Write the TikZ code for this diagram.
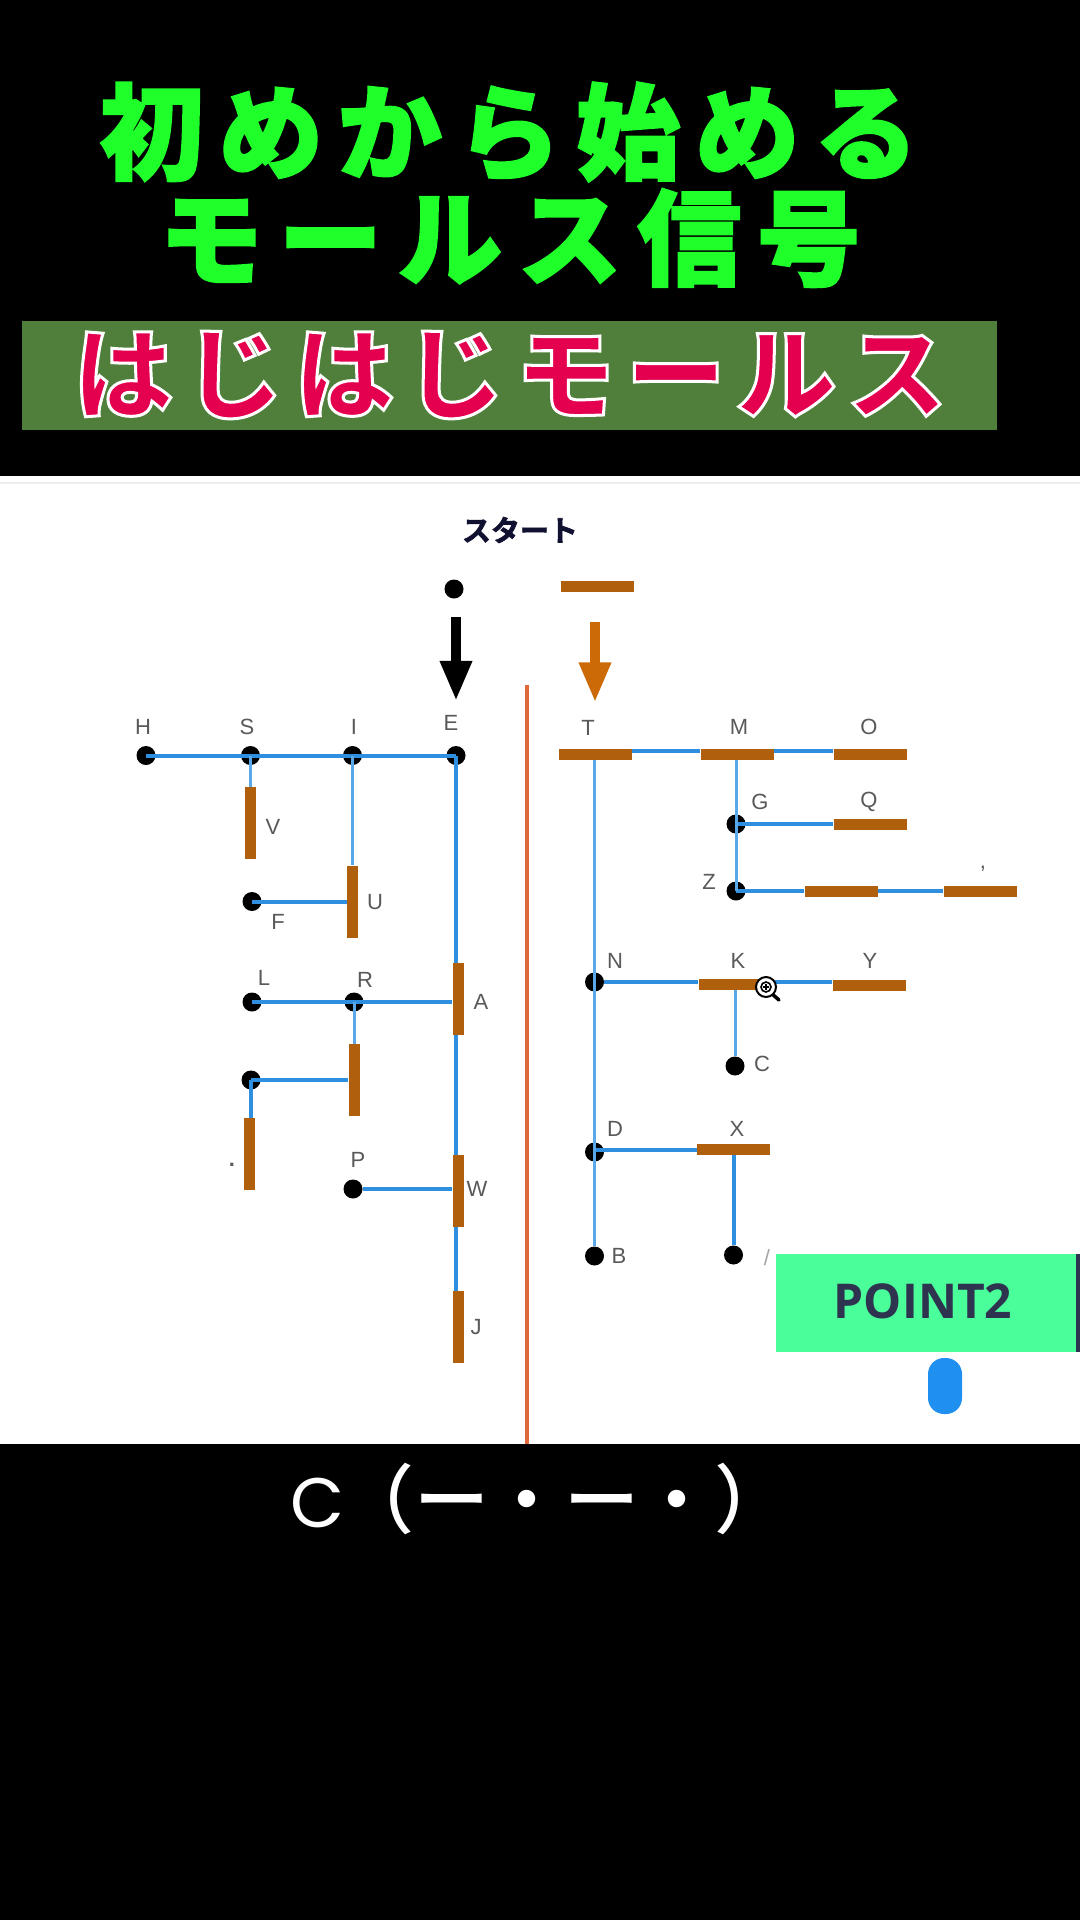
\documentclass[tikz,border=0pt]{standalone}
\usepackage{fontspec}
\usepackage{tikz}
\usetikzlibrary{arrows,arrows.meta,positioning}
\setmainfont{Liberation Sans}
\newfontfamily\titlefont[LetterSpace=14.5,FakeBold=2]{Noto Sans CJK JP Black}
\newfontfamily\titlefontb[LetterSpace=15,FakeBold=2]{Noto Sans CJK JP Black}
\newfontfamily\subfont[LetterSpace=10.5,FakeBold=3]{Noto Sans CJK JP Black}
\newfontfamily\startfont[FakeBold=2]{Noto Sans CJK JP Bold}
\newfontfamily\capfont{Noto Sans CJK JP Medium}
\newfontfamily\capletter{Poppins}
\newfontfamily\pointfont{Open Sans Bold}
\definecolor{barcol}{HTML}{B0600C}
\definecolor{wirecol}{HTML}{2E8FE0}
\definecolor{thincol}{HTML}{5AA8E8}
\definecolor{titlecol}{HTML}{1FFF2A}
\definecolor{bandcol}{HTML}{507F3B}
\definecolor{subcol}{HTML}{E5004F}
\definecolor{startcol}{HTML}{101030}
\definecolor{sepcol}{HTML}{E0693A}
\definecolor{arrowcol}{HTML}{CC6A08}
\definecolor{pointcol}{HTML}{4AFF9A}
\definecolor{inkcol}{HTML}{2E3350}
\definecolor{pillcol}{HTML}{2090F0}
\tikzset{
    %Define standard arrow tip
    >=stealth',
    % dots and bars of the chart
    dit/.style={circle, fill=black, inner sep=0pt, minimum size=19pt},
    hbar/.style={rectangle, fill=barcol, inner sep=0pt, minimum width=73pt, minimum height=11pt},
    vbar/.style={rectangle, fill=barcol, inner sep=0pt, minimum width=11pt, minimum height=72pt},
    letter/.style={text=black!65, inner sep=0pt, font=\fontsize{22}{22}\selectfont},
    % connectors
    wire/.style={draw=wirecol, line width=4pt},
    thinwire/.style={draw=thincol, line width=3pt},
    startarrow/.style={line width=9.5pt, -{Triangle[width=30pt,length=40pt]}}
}
\begin{document}
\begin{tikzpicture}[x=1pt,y=-1pt]
\useasboundingbox (0,0) rectangle (1080,1920);
\fill[black] (0,0) rectangle (1080,1920);
\fill[white] (0,476) rectangle (1080,1444);
\fill[black!7] (0,482) rectangle (1080,484);

 %titles
\node[text=titlecol, inner sep=0pt] (title1) at (509,132) {\fontsize{104}{104}\titlefont 初めから始める};
\node[text=titlecol, inner sep=0pt] (title2) at (510,238) {\fontsize{104}{104}\titlefontb モールス信号};
\node[fill=bandcol, minimum width=975pt, minimum height=109pt, inner sep=0pt] (band) at (509.5,375.5) {};
\node[text=subcol, inner sep=0pt] (sub) at (510,375) {\special{pdf:code 1 1 1 RG}\fontsize{100}{100}\subfont はじはじモールス};
\node[text=startcol, inner sep=0pt] (start) at (520,530) {\fontsize{29}{29}\startfont スタート};

 %start row
\node[dit] (d0) at (454,589) {};
\node[hbar] (b0) at (597.5,586) {};

 %left nodes
\node[dit] (H) at (146,755.5) {};
\node[dit] (S) at (250.5,755.5) {};
\node[dit] (I) at (352.5,755.5) {};
\node[dit] (E) at (456,755.5) {};
\node[vbar] (V) at (250.5,823) {};
\node[vbar] (U) at (352.5,901.5) {};
\node[dit] (F) at (252,901.5) {};
\node[vbar] (A) at (458,999) {};
\node[dit] (L) at (252,1002) {};
\node[dit] (R) at (354,1002) {};
\node[vbar] (Rb) at (354,1080) {};
\node[dit] (Ld) at (251,1080) {};
\node[vbar] (Pd) at (249,1154) {};
\node[dit] (P) at (353,1189) {};
\node[vbar] (W) at (458,1191) {};
\node[vbar] (J) at (458,1327) {};

 %right nodes
\node[hbar] (T) at (595,754) {};
\node[hbar] (M) at (737,754) {};
\node[hbar] (O) at (870,754) {};
\node[dit] (G) at (736,824) {};
\node[hbar] (Q) at (870,824) {};
\node[dit] (Z) at (736,891) {};
\node[hbar] (Z1) at (841,891) {};
\node[hbar] (Z2) at (980,891) {};
\node[dit] (N) at (594.5,982) {};
\node[hbar] (K) at (735,984) {};
\node[hbar] (Y) at (869,985.5) {};
\node[dit] (C) at (735,1066) {};
\node[dit] (D) at (594.5,1152) {};
\node[hbar] (X) at (733.5,1149.5) {};
\node[dit] (B) at (594.5,1256) {};
\node[dit] (Sl) at (733.5,1255) {};

 %letters
\foreach \nm/\px/\py/\txt in {lH/143/727/H, lS/247/727/S, lI/354/727/I, lE/451/723/E, lV/273/827/V,
    lU/375/902/U, lF/278/922/F, lL/264/978/L, lR/365/980/R, lA/481/1002/A, lP/358/1160/P, lW/477/1189/W,
    lJ/476/1327/J, lT/588/728/T, lM/739/727/M, lO/869/727/O, lG/760/802/G, lQ/869/802/Q, lZ/709/882/Z,
    lN/615/961/N, lK/738/961/K, lY/870/961/Y, lC/762/1064/C, lD/615/1129/D, lX/737/1129/X, lB/619/1256/B}
  \node[letter] (\nm) at (\px,\py) {\txt};
\node[letter, font=\fontsize{22}{22}\selectfont\bfseries] (lperiod) at (232,1165) {.};
\node[letter] (lcomma) at (983,869) {,};
\node[letter, text=black!35] (lslash) at (767,1258) {/};

 %separator
\coordinate (septop) at (527,685);
\coordinate (sepbot) at (527,1444);
\draw[draw=sepcol, line width=4pt] (septop) -- (sepbot);

 %connectors
\path[wire]
    (H.center) edge (E.center)
    (F.center) edge (F -| U.west)
    (L.center) edge (L -| A.west)
    (Ld.center) edge (Ld -| Rb.west)
    (P) edge (P -| W.west)
    (E.center) edge (E |- A.north)
    (E |- A.south) edge (E |- W.north)
    (E |- W.south) edge (E |- J.north)
    (Ld.center) edge (Ld |- Pd.north)
    ([yshift=3pt]T.east) edge ([yshift=3pt]M.west)
    ([yshift=3pt]M.east) edge ([yshift=3pt]O.west)
    (G.center) edge (G -| Q.west)
    (Z.center) edge (Z1.west)
    (Z1.east) edge (Z2.west)
    (N) edge (N -| K.west)
    (N -| K.east) edge (N -| Y.west)
    (D.center |- X.west) edge (X.west)
    (X) edge (Sl);
\path[thinwire]
    (S.center) edge (S |- V.north)
    (I.center) edge (I |- U.north)
    (R.center) edge (R |- Rb.north)
    (Z |- M.south) edge (Z.center)
    (B |- T.south) edge (B)
    (K) edge (C);

 %start arrows
\draw[startarrow, black, shorten <=28pt, shorten >=45pt] (d0 -| E) -- (E);
\draw[startarrow, arrowcol, shorten <=30pt, shorten >=46pt] (b0.south -| T) -- (T);

 %cursor
\draw[line width=3.5pt, line cap=round] (771,993) -- (779,1000);
\draw[black, line width=2pt, fill=white] (766,987) circle (10);
\draw[black, line width=1.6pt] (766,987) circle (5);
\draw[black, line width=1.2pt] (763,987) -- (769,987) (766,984) -- (766,990);

 %point box
\node[fill=pointcol, minimum width=300pt, minimum height=98pt, inner sep=0pt] (point) at (926,1303) {};
\node[text=inkcol, inner sep=0pt] (pointtxt) at (923,1301) {\fontsize{48}{48}\pointfont POINT2};
\node[fill=inkcol, minimum width=4pt, minimum height=98pt, inner sep=0pt] (pointedge) at (1078,1303) {};
\node[fill=pillcol, minimum width=34pt, minimum height=56pt, inner sep=0pt, rounded corners=16pt] (pill) at (945,1386) {};

 %caption
\node[text=white, inner sep=0pt] (caption) at (540,1499) {\fontsize{70}{75}\capletter C\kern-6pt\fontsize{75}{75}\capfont （ー・ー・）};
\end{tikzpicture}
\end{document}
